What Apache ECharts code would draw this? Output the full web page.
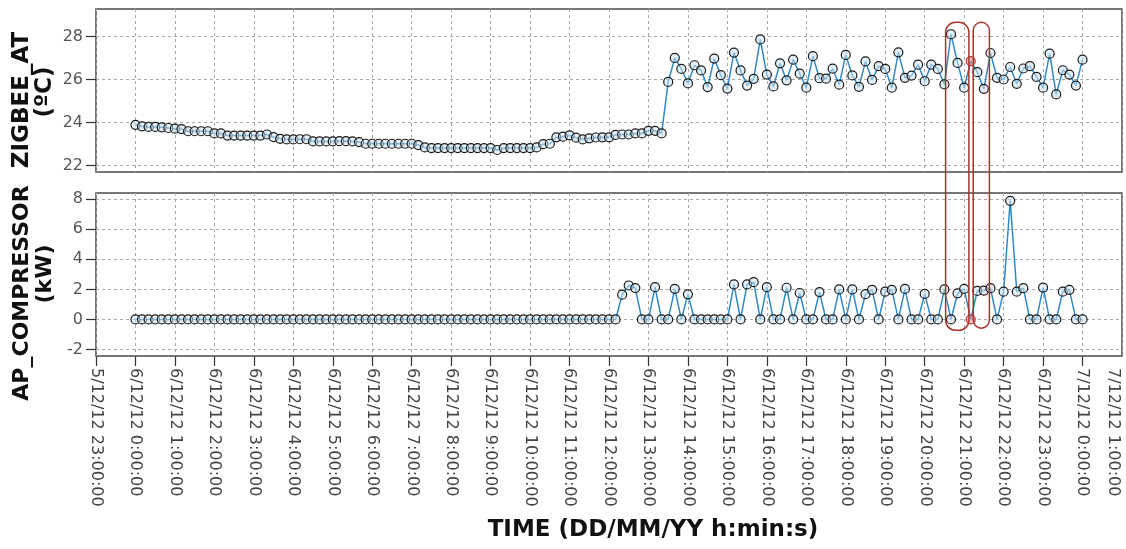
<!DOCTYPE html>
<html><head><meta charset="utf-8">
<script src="https://cdn.jsdelivr.net/npm/echarts@6/dist/echarts.min.js"></script>
<style>html,body{margin:0;padding:0;background:#fff}#c{width:1126px;height:549px}</style>
</head><body><div id="c"></div>
<script>
// ---- data ----
const tickLabels = [
  '5/12/12 23:00:00','6/12/12 0:00:00','6/12/12 1:00:00','6/12/12 2:00:00','6/12/12 3:00:00',
  '6/12/12 4:00:00','6/12/12 5:00:00','6/12/12 6:00:00','6/12/12 7:00:00','6/12/12 8:00:00',
  '6/12/12 9:00:00','6/12/12 10:00:00','6/12/12 11:00:00','6/12/12 12:00:00','6/12/12 13:00:00',
  '6/12/12 14:00:00','6/12/12 15:00:00','6/12/12 16:00:00','6/12/12 17:00:00','6/12/12 18:00:00',
  '6/12/12 19:00:00','6/12/12 20:00:00','6/12/12 21:00:00','6/12/12 22:00:00','6/12/12 23:00:00',
  '7/12/12 0:00:00','7/12/12 1:00:00'
];
const sampleStepMinutes = 10; // one reading every 10 minutes from 6/12/12 0:00:00

const zigbeeAT = [
  23.9,23.83,23.8,23.8,23.78,23.75,23.72,23.7,23.6,23.6,
  23.6,23.6,23.5,23.5,23.4,23.4,23.4,23.4,23.4,23.4,
  23.45,23.33,23.25,23.22,23.22,23.23,23.23,23.13,23.13,23.13,
  23.13,23.14,23.14,23.13,23.1,23.02,23.02,23.02,23.02,23.02,
  23.02,23.02,23.02,22.96,22.85,22.82,22.82,22.82,22.82,22.82,
  22.82,22.82,22.82,22.82,22.82,22.73,22.82,22.82,22.82,22.82,
  22.82,22.85,23.0,23.02,23.32,23.35,23.41,23.3,23.22,23.27,
  23.31,23.32,23.32,23.43,23.45,23.45,23.5,23.5,23.62,23.62,
  23.5,25.89,27.0,26.49,25.82,26.66,26.42,25.65,26.97,26.2,
  25.58,27.25,26.42,25.72,26.03,27.86,26.23,25.68,26.75,25.96,
  26.92,26.27,25.62,27.08,26.06,26.04,26.5,25.76,27.14,26.19,
  25.66,26.84,25.98,26.62,26.49,25.62,27.26,26.08,26.18,26.69,
  25.92,26.69,26.49,25.77,28.1,26.77,25.62,26.85,26.34,25.57,
  27.23,26.08,26.0,26.58,25.8,26.51,26.62,26.12,25.62,27.2,
  25.31,26.43,26.23,25.72,26.92
];
const apCompressor = [
  0,0,0,0,0,0,0,0,0,0, 0,0,0,0,0,0,0,0,0,0,
  0,0,0,0,0,0,0,0,0,0, 0,0,0,0,0,0,0,0,0,0,
  0,0,0,0,0,0,0,0,0,0, 0,0,0,0,0,0,0,0,0,0,
  0,0,0,0,0,0,0,0,0,0, 0,0,0,0,
  1.65,2.26,2.09,0,0,2.15,0,0,2.04,0,
  1.67,0,0,0,0,0,0,2.33,0,2.33,
  2.48,0,2.15,0,0,2.11,0,1.76,0,0,
  1.82,0,0,2.0,0,2.0,0,1.68,1.97,0,
  1.85,1.97,0,2.03,0,0,1.7,0,0,2.0,
  0,1.74,2.03,0,1.9,1.92,2.08,0,1.85,7.89,
  1.85,2.08,0,0,2.12,0,0,1.85,1.97,0,0
];
const highlightedPoints = [127];
// annotation boxes in data units: hours from 6/12/12 0:00, top in °C, bottom in kW
const annotationBoxes = [
  {from: 20.53, to: 21.12, top: 28.65, bottom: -0.72},
  {from: 21.23, to: 21.64, top: 28.65, bottom: -0.58}
];

// ---- chart ----
const hours = zigbeeAT.map((_, i) => i * sampleStepMinutes / 60);
const mark = (arr) => arr.map((v, i) => highlightedPoints.includes(i)
  ? {value: [hours[i], v], itemStyle: {borderColor: '#b03a30', color: 'rgba(230,150,150,0.6)'}}
  : [hours[i], v]);

const FONT = 'DejaVu Sans';
const gridLine = {show: true, lineStyle: {color: '#a8a8a8', width: 1, type: [3, 3]}};
const chart = echarts.init(document.getElementById('c'), null, {renderer: 'canvas'});

function xAxis(gridIndex, labels) {
  return {
    type: 'value', gridIndex, min: -1, max: 25, interval: 1,
    axisLine: {show: false, onZero: false},
    axisTick: {show: labels, length: 10, lineStyle: {color: '#333', width: 1.2}},
    axisLabel: {show: labels, rotate: -90, margin: 12, fontSize: 16, color: '#444', fontFamily: FONT,
      showMaxLabel: false, formatter: v => tickLabels[Math.round(v) + 1]},
    splitLine: gridLine
  };
}
function yAxis(gridIndex, min, max, ticks) {
  return {
    type: 'value', gridIndex, min, max, splitNumber: 5,
    axisLine: {show: false, onZero: false},
    axisTick: {show: true, length: 10, customValues: ticks, lineStyle: {color: '#333', width: 1.2}},
    axisLabel: {customValues: ticks, margin: 13, fontSize: 16, color: '#555', fontFamily: FONT},
    splitLine: gridLine
  };
}
const series = (xi, data) => ({
  type: 'line', xAxisIndex: xi, yAxisIndex: xi, data,
  symbol: 'circle', symbolSize: 9, showSymbol: true,
  lineStyle: {color: '#2f8ac4', width: 1.5},
  itemStyle: {color: 'rgba(205,228,243,0.55)', borderColor: '#1a1a1a', borderWidth: 1.2},
  emphasis: {disabled: true}
});

const gridBase = {left: 96, width: 1026, height: 163, show: true, borderColor: '#4a4a4a', borderWidth: 1.5,
  backgroundColor: 'transparent', containLabel: false, outerBoundsMode: 'none'};
chart.setOption({
  animation: false,
  backgroundColor: '#fff',
  textStyle: {fontFamily: FONT},
  grid: [Object.assign({top: 9}, gridBase), Object.assign({top: 193}, gridBase)],
  xAxis: [xAxis(0, false), xAxis(1, true)],
  yAxis: [yAxis(0, 21.71, 29.27, [22, 24, 26, 28]), yAxis(1, -2.43, 8.41, [-2, 0, 2, 4, 6, 8])],
  series: [series(0, mark(zigbeeAT)), series(1, mark(apCompressor))]
});

const nameStyle = (text, size) => ({font: `bold ${size}px "${FONT}"`, text, fill: '#111', align: 'center', verticalAlign: 'middle'});
const graphics = [
  {type: 'text', x: 22, y: 100, rotation: Math.PI / 2, style: nameStyle('ZIGBEE_AT', 23), z: 10},
  {type: 'text', x: 45, y: 92, rotation: Math.PI / 2, style: nameStyle('(ºC)', 23), z: 10},
  {type: 'text', x: 22, y: 293, rotation: Math.PI / 2, style: nameStyle('AP_COMPRESSOR', 22), z: 10},
  {type: 'text', x: 45, y: 274, rotation: Math.PI / 2, style: nameStyle('(kW)', 22), z: 10},
  {type: 'text', x: 653, y: 530, style: nameStyle('TIME (DD/MM/YY h:min:s)', 23), z: 10}
];
// last tick label sits just left of its tick so it stays inside the canvas
const lastTick = chart.convertToPixel({gridIndex: 1}, [25, -2.43]);
graphics.push({type: 'text', x: lastTick[0] - 1, y: lastTick[1] + 12, rotation: -Math.PI / 2, z: 10,
  style: {text: tickLabels[tickLabels.length - 1], font: `16px "${FONT}"`, fill: '#444', align: 'left', verticalAlign: 'top'}});
annotationBoxes.forEach(b => {
  const p1 = chart.convertToPixel({gridIndex: 0}, [b.from, b.top]);
  const p2 = chart.convertToPixel({gridIndex: 1}, [b.to, b.bottom]);
  graphics.push({type: 'rect', z: 20,
    shape: {x: p1[0], y: p1[1], width: p2[0] - p1[0], height: p2[1] - p1[1], r: 10},
    style: {fill: 'none', stroke: '#a8342c', lineWidth: 1.5}});
});
chart.setOption({graphic: graphics});
</script>
</body></html>
